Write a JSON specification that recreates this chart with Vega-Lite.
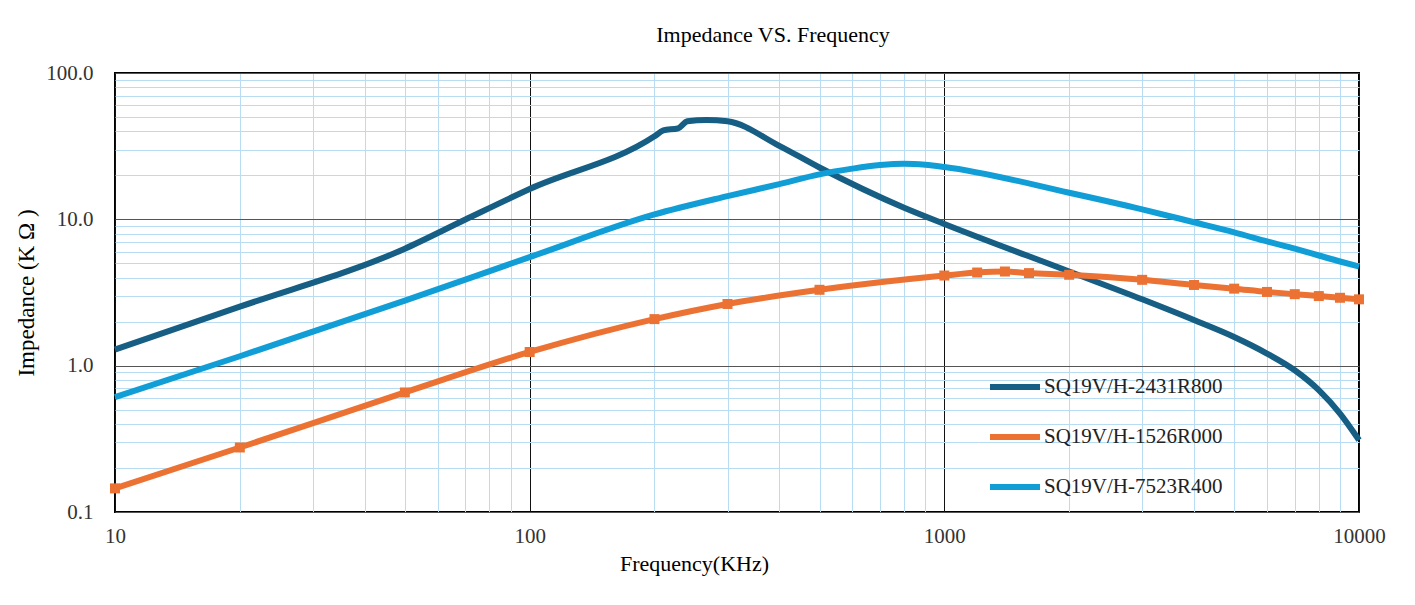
{
  "$schema": "https://vega.github.io/schema/vega-lite/v6.json",
  "width": 1244,
  "height": 439,
  "autosize": {"type": "none"},
  "padding": {"left": 115, "top": 73, "right": 56, "bottom": 93},
  "background": "white",
  "config": {
    "font": "Liberation Serif",
    "view": {"stroke": "black", "strokeWidth": 2, "fill": "white"}
  },
  "title": {
    "text": "Impedance VS. Frequency",
    "font": "Liberation Serif",
    "fontSize": 22,
    "fontWeight": "normal",
    "color": "black",
    "anchor": "middle",
    "offset": 15,
    "dx": 36
  },
  "data": {
    "values": [
      {"series": "SQ19V/H-2431R800", "f": 10, "z": 1.29},
      {"series": "SQ19V/H-2431R800", "f": 20, "z": 2.53},
      {"series": "SQ19V/H-2431R800", "f": 50, "z": 6.3},
      {"series": "SQ19V/H-2431R800", "f": 70, "z": 9.97},
      {"series": "SQ19V/H-2431R800", "f": 100, "z": 16.1},
      {"series": "SQ19V/H-2431R800", "f": 200, "z": 36.9},
      {"series": "SQ19V/H-2431R800", "f": 210, "z": 40.5},
      {"series": "SQ19V/H-2431R800", "f": 228, "z": 41.9},
      {"series": "SQ19V/H-2431R800", "f": 240, "z": 46.8},
      {"series": "SQ19V/H-2431R800", "f": 267, "z": 47.8},
      {"series": "SQ19V/H-2431R800", "f": 300, "z": 46.8},
      {"series": "SQ19V/H-2431R800", "f": 400, "z": 31.8},
      {"series": "SQ19V/H-2431R800", "f": 500, "z": 22.6},
      {"series": "SQ19V/H-2431R800", "f": 800, "z": 12.0},
      {"series": "SQ19V/H-2431R800", "f": 1000, "z": 9.3},
      {"series": "SQ19V/H-2431R800", "f": 2000, "z": 4.4},
      {"series": "SQ19V/H-2431R800", "f": 3000, "z": 2.84},
      {"series": "SQ19V/H-2431R800", "f": 4000, "z": 2.05},
      {"series": "SQ19V/H-2431R800", "f": 5000, "z": 1.57},
      {"series": "SQ19V/H-2431R800", "f": 6000, "z": 1.21},
      {"series": "SQ19V/H-2431R800", "f": 7000, "z": 0.93},
      {"series": "SQ19V/H-2431R800", "f": 8000, "z": 0.68},
      {"series": "SQ19V/H-2431R800", "f": 9000, "z": 0.47},
      {"series": "SQ19V/H-2431R800", "f": 10000, "z": 0.31},
      {"series": "SQ19V/H-1526R000", "f": 10, "z": 0.145},
      {"series": "SQ19V/H-1526R000", "f": 20, "z": 0.276},
      {"series": "SQ19V/H-1526R000", "f": 50, "z": 0.656},
      {"series": "SQ19V/H-1526R000", "f": 100, "z": 1.24},
      {"series": "SQ19V/H-1526R000", "f": 200, "z": 2.08},
      {"series": "SQ19V/H-1526R000", "f": 300, "z": 2.64},
      {"series": "SQ19V/H-1526R000", "f": 500, "z": 3.3},
      {"series": "SQ19V/H-1526R000", "f": 1000, "z": 4.13},
      {"series": "SQ19V/H-1526R000", "f": 1200, "z": 4.33},
      {"series": "SQ19V/H-1526R000", "f": 1400, "z": 4.4},
      {"series": "SQ19V/H-1526R000", "f": 1600, "z": 4.29},
      {"series": "SQ19V/H-1526R000", "f": 2000, "z": 4.18},
      {"series": "SQ19V/H-1526R000", "f": 3000, "z": 3.86},
      {"series": "SQ19V/H-1526R000", "f": 4000, "z": 3.56},
      {"series": "SQ19V/H-1526R000", "f": 5000, "z": 3.36},
      {"series": "SQ19V/H-1526R000", "f": 6000, "z": 3.19},
      {"series": "SQ19V/H-1526R000", "f": 7000, "z": 3.08},
      {"series": "SQ19V/H-1526R000", "f": 8000, "z": 2.99},
      {"series": "SQ19V/H-1526R000", "f": 9000, "z": 2.91},
      {"series": "SQ19V/H-1526R000", "f": 10000, "z": 2.84},
      {"series": "SQ19V/H-7523R400", "f": 10, "z": 0.61},
      {"series": "SQ19V/H-7523R400", "f": 20, "z": 1.16},
      {"series": "SQ19V/H-7523R400", "f": 50, "z": 2.78},
      {"series": "SQ19V/H-7523R400", "f": 100, "z": 5.52},
      {"series": "SQ19V/H-7523R400", "f": 200, "z": 10.8},
      {"series": "SQ19V/H-7523R400", "f": 300, "z": 14.4},
      {"series": "SQ19V/H-7523R400", "f": 400, "z": 17.4},
      {"series": "SQ19V/H-7523R400", "f": 500, "z": 20.3},
      {"series": "SQ19V/H-7523R400", "f": 600, "z": 22.2},
      {"series": "SQ19V/H-7523R400", "f": 700, "z": 23.5},
      {"series": "SQ19V/H-7523R400", "f": 800, "z": 24.0},
      {"series": "SQ19V/H-7523R400", "f": 900, "z": 23.6},
      {"series": "SQ19V/H-7523R400", "f": 1000, "z": 22.8},
      {"series": "SQ19V/H-7523R400", "f": 2000, "z": 15.2},
      {"series": "SQ19V/H-7523R400", "f": 3000, "z": 11.7},
      {"series": "SQ19V/H-7523R400", "f": 4000, "z": 9.55},
      {"series": "SQ19V/H-7523R400", "f": 5000, "z": 8.15},
      {"series": "SQ19V/H-7523R400", "f": 6000, "z": 7.07},
      {"series": "SQ19V/H-7523R400", "f": 7000, "z": 6.3},
      {"series": "SQ19V/H-7523R400", "f": 8000, "z": 5.66},
      {"series": "SQ19V/H-7523R400", "f": 9000, "z": 5.15},
      {"series": "SQ19V/H-7523R400", "f": 10000, "z": 4.76}
    ]
  },
  "encoding": {
    "x": {
      "field": "f",
      "type": "quantitative",
      "scale": {"type": "log", "domain": [10, 10000], "nice": false},
      "axis": {
        "values": [10, 20, 30, 40, 50, 60, 70, 80, 90, 100, 200, 300, 400, 500, 600, 700, 800, 900, 1000, 2000, 3000, 4000, 5000, 6000, 7000, 8000, 9000, 10000],
        "labelExpr": "abs(log(datum.value)/LN10 - round(log(datum.value)/LN10)) < 0.001 ? format(datum.value, 'd') : ''",
        "grid": true,
        "gridColor": {"condition": {"test": "abs(log(datum.value)/LN10 - round(log(datum.value)/LN10)) < 0.001", "value": "#111111"}, "value": "#B8DDF2"},
        "gridWidth": 1,
        "ticks": false,
        "domain": false,
        "labelOverlap": false,
        "labelFlush": false,
        "labelFont": "Liberation Serif",
        "labelFontSize": 21,
        "labelColor": "#333333",
        "labelPadding": 13,
        "title": "Frequency(KHz)",
        "titleFont": "Liberation Serif",
        "titleFontSize": 22,
        "titleFontWeight": "normal",
        "titleColor": "black",
        "titleX": 579,
        "titlePadding": 7
      }
    },
    "y": {
      "field": "z",
      "type": "quantitative",
      "scale": {"type": "log", "domain": [0.1, 100], "nice": false},
      "axis": {
        "values": [0.1, 0.2, 0.3, 0.4, 0.5, 0.6, 0.7, 0.8, 0.9, 1, 2, 3, 4, 5, 6, 7, 8, 9, 10, 20, 30, 40, 50, 60, 70, 80, 90, 100],
        "labelExpr": "abs(log(datum.value)/LN10 - round(log(datum.value)/LN10)) < 0.001 ? format(datum.value, '.1f') : ''",
        "grid": true,
        "gridColor": {"condition": {"test": "abs(log(datum.value)/LN10 - round(log(datum.value)/LN10)) < 0.001", "value": "#555555"}, "value": "#B8DDF2"},
        "gridWidth": 1,
        "ticks": false,
        "domain": false,
        "labelOverlap": false,
        "labelFlush": false,
        "labelFont": "Liberation Serif",
        "labelFontSize": 21,
        "labelColor": "#333333",
        "labelPadding": 22,
        "title": "Impedance (K Ω )",
        "titleFont": "Liberation Serif",
        "titleFontSize": 23,
        "titleFontWeight": "normal",
        "titleColor": "black",
        "titlePadding": 7
      }
    },
    "color": {
      "field": "series",
      "type": "nominal",
      "scale": {
        "domain": ["SQ19V/H-2431R800", "SQ19V/H-1526R000", "SQ19V/H-7523R400"],
        "range": ["#165E83", "#EC7233", "#119ED6"]
      },
      "legend": {
        "orient": "none",
        "legendX": 872,
        "legendY": 286,
        "title": null,
        "symbolType": "stroke",
        "symbolSize": 2500,
        "symbolStrokeWidth": 6,
        "labelFont": "Liberation Serif",
        "labelFontSize": 21,
        "labelColor": "#222222",
        "labelOffset": 1,
        "labelLimit": 300,
        "rowPadding": 10
      }
    }
  },
  "layer": [
    {"mark": {"type": "line", "interpolate": "monotone", "strokeWidth": 6}},
    {
      "transform": [{"filter": "datum.series === 'SQ19V/H-1526R000'"}],
      "mark": {"type": "point", "shape": "square", "filled": true, "size": 100, "opacity": 1},
      "encoding": {"color": {"value": "#EC7233"}}
    }
  ]
}
